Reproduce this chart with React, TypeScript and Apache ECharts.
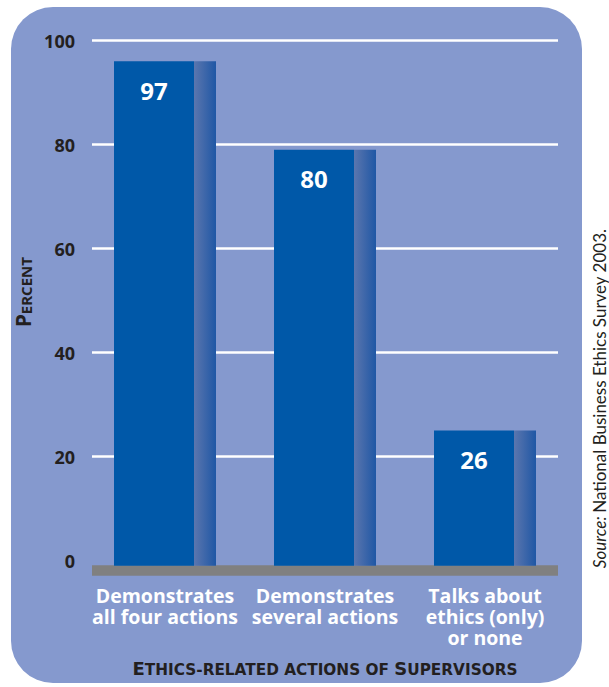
import React, { useEffect, useRef } from "react";
import * as echarts from "echarts";

const categories = [
  "Demonstrates\nall four actions",
  "Demonstrates\nseveral actions",
  "Talks about\nethics (only)\nor none",
];
const percentValues = [97, 80, 26];
const yTicks = { min: 0, max: 100, interval: 20 };
const sourceNote = "National Business Ethics Survey 2003.";

const BOLD = "'Open Sans', 'Noto Sans', sans-serif";
const WIDE = "'DejaVu Sans', 'Open Sans', sans-serif";
const DARK = "#231f20";

export default function App() {
  const ref = useRef<HTMLDivElement>(null);
  useEffect(() => {
    if (!ref.current) return;
    const chart = echarts.init(ref.current, undefined, { renderer: "svg" });
    const barColor = new echarts.graphic.LinearGradient(0, 0, 1, 0, [
      { offset: 0, color: "#0058a8" },
      { offset: 0.784, color: "#0058a8" },
      { offset: 0.785, color: "#5b76ae" },
      { offset: 1, color: "#1f57a5" },
    ]);
    chart.setOption({
      animation: false,
      backgroundColor: "#ffffff",
      graphic: [
        {
          type: "rect",
          z: -100,
          shape: { x: 11, y: 7, width: 571, height: 676, r: 42 },
          style: { fill: "#8599ce" },
          silent: true,
        },
        {
          type: "text",
          x: 599,
          y: 398.5,
          rotation: Math.PI / 2,
          style: {
            text: "{i|Source:} {r|" + sourceNote + "}",
            align: "center",
            verticalAlign: "middle",
            fill: DARK,
            rich: {
              i: { fontFamily: "Lato, sans-serif", fontStyle: "italic", fontSize: 17, fill: DARK },
              r: { fontFamily: "Lato, sans-serif", fontSize: 17, fill: DARK },
            },
          },
        },
      ],
      grid: [
        { left: 92, right: 51, top: 40.7, bottom: 687 - 560.7 },
        { left: 85, right: 44, top: 45.7, bottom: 687 - 565.7 },
      ],
      xAxis: [
        {
          type: "category",
          gridIndex: 0,
          data: categories,
          offset: 10,
          axisLine: { show: true, onZero: false, lineStyle: { color: "#808080", width: 10.5, cap: "butt" } },
          axisTick: { show: false },
          axisLabel: { show: false },
          splitLine: { show: false },
        },
        {
          type: "category",
          gridIndex: 1,
          data: categories,
          axisLine: { show: false, onZero: false },
          axisTick: { show: false },
          axisLabel: {
            margin: 19,
            color: "#ffffff",
            fontFamily: BOLD,
            fontWeight: "bold",
            fontSize: 19.5,
            lineHeight: 21,
            interval: 0,
          },
          name: "{b|E}{s|THICS-RELATED ACTIONS OF }{b|S}{s|UPERVISORS}",
          nameLocation: "middle",
          nameGap: 91,
          nameTextStyle: {
            color: DARK,
            rich: {
              b: { fontFamily: WIDE, fontWeight: "bold", fontSize: 18, color: DARK, lineHeight: 21, verticalAlign: "bottom" },
              s: { fontFamily: WIDE, fontWeight: "bold", fontSize: 15.3, color: DARK, lineHeight: 21, verticalAlign: "bottom" },
            },
          },
        },
      ],
      yAxis: [
        {
          type: "value",
          gridIndex: 0,
          min: yTicks.min,
          max: yTicks.max,
          interval: yTicks.interval,
          axisLine: { show: false },
          axisTick: { show: false },
          axisLabel: {
            margin: 17,
            color: DARK,
            fontFamily: BOLD,
            fontWeight: "bold",
            fontSize: 18,
            padding: [5, 0, 0, 0],
          },
          splitLine: {
            show: true,
            lineStyle: {
              color: ["rgba(0,0,0,0)", "#ffffff", "#ffffff", "#ffffff", "#ffffff", "#ffffff"],
              width: 2.5,
            },
          },
          name: "{b|P}{s|ERCENT}",
          nameLocation: "middle",
          nameRotate: 90,
          nameGap: 43,
          nameTextStyle: {
            color: DARK,
            padding: [0, 0, 0, 17],
            rich: {
              b: { fontFamily: BOLD, fontWeight: "bold", fontSize: 21, color: DARK, verticalAlign: "bottom", lineHeight: 22 },
              s: { fontFamily: BOLD, fontWeight: "bold", fontSize: 15, color: DARK, verticalAlign: "bottom", lineHeight: 22 },
            },
          },
        },
        {
          type: "value",
          gridIndex: 1,
          min: yTicks.min,
          max: yTicks.max,
          interval: yTicks.interval,
          show: false,
          splitLine: { show: false },
        },
      ],
      series: [
        {
          type: "bar",
          xAxisIndex: 1,
          yAxisIndex: 1,
          data: percentValues,
          barWidth: 102,
          z: 5,
          itemStyle: { color: barColor },
          label: {
            show: true,
            position: "insideTop",
            distance: 17,
            offset: [-11, 0],
            color: "#ffffff",
            fontFamily: BOLD,
            fontWeight: "bold",
            fontSize: 24,
            lineHeight: 24,
          },
        },
      ],
    });
    return () => chart.dispose();
  }, []);
  return (
    <div
      ref={ref}
      style={{ position: "absolute", left: 0, top: 0, width: 609, height: 687 }}
    />
  );
}
